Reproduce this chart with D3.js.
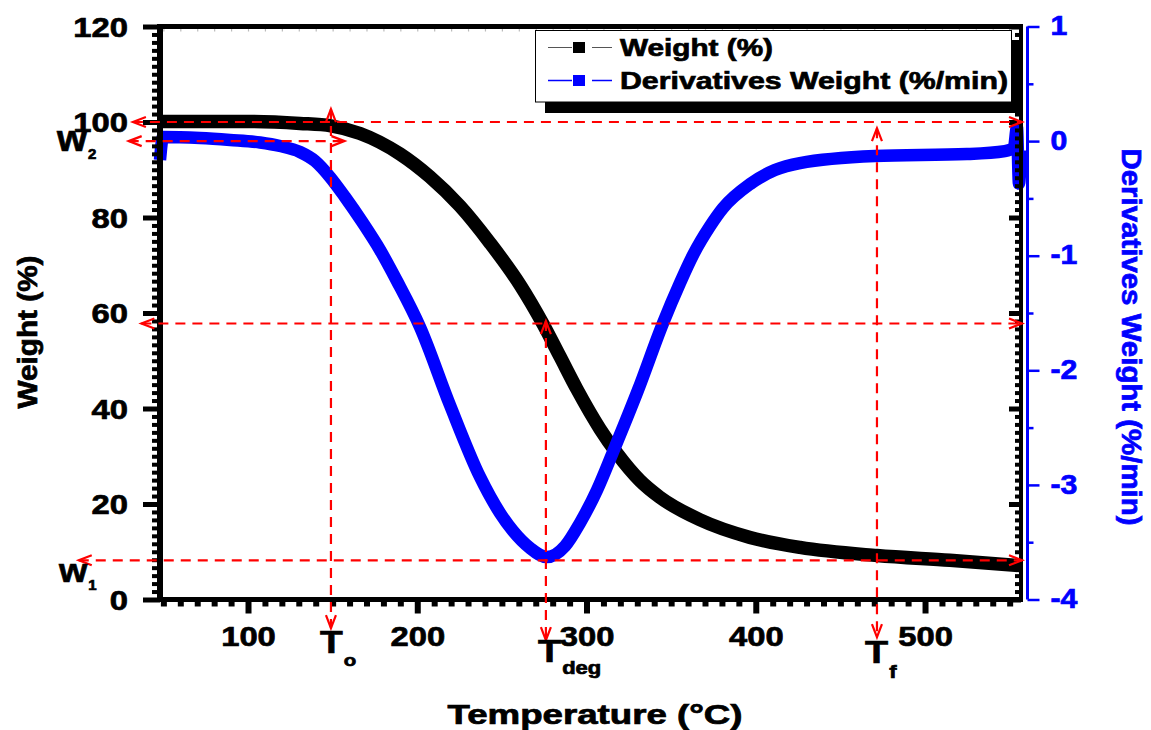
<!DOCTYPE html>
<html>
<head>
<meta charset="utf-8">
<script src="https://cdn.jsdelivr.net/npm/d3@7"></script>
<style>
  html, body { margin: 0; padding: 0; background: #fff; }
  svg { display: block; }
  text { font-family: "Liberation Sans", Arial, sans-serif; font-weight: bold; }
</style>
</head>
<body>
<svg id="chart" width="1151" height="730"></svg>
<script>
// ---- TGA / DTG data ----
const weightTemp = [48, 101.2, 130.7, 149, 166.2, 189.8, 207.5, 225.2, 242.9, 260.7, 274.3, 284.3, 294.4, 308, 318, 331.6, 343.4, 367, 396.6, 426.1, 471.6, 514.7, 556.1];
const weightPct  = [100.1, 100.1, 99.7, 99.2, 97.6, 93.3, 88.5, 82.4, 74.7, 65.9, 57.7, 50.9, 44.0, 35.7, 30.6, 24.9, 21.4, 16.7, 13.0, 10.9, 9.2, 8.2, 7.1];

const derivTemp = [48, 49.8, 71.6, 89.4, 107.1, 118.9, 130.7, 139.6, 148.4, 157.3, 167.9, 178, 188, 201.6, 219.3, 237.1, 248.9, 256.6, 266.6, 276.6, 287.3, 296.1, 306.2, 315.6, 330.4, 345.2, 355.2, 362.9, 373, 380.6, 396.6, 411.3, 426.1, 470.4, 524.8, 547.2, 552.5, 554.3, 555.5, 556.7];
const derivVal  = [-0.165, 0.036, 0.027, 0.01, -0.012, -0.043, -0.095, -0.174, -0.313, -0.488, -0.715, -0.95, -1.221, -1.622, -2.303, -2.932, -3.246, -3.403, -3.551, -3.63, -3.534, -3.333, -3.045, -2.714, -2.173, -1.588, -1.239, -0.995, -0.742, -0.585, -0.375, -0.253, -0.192, -0.131, -0.113, -0.087, -0.06, 0.12, -0.37, -0.08];

// axis ticks
const tempTicks   = [100, 200, 300, 400, 500];
const weightTicks = [0, 20, 40, 60, 80, 100, 120];
const derivTicks  = [-4, -3, -2, -1, 0, 1];

// characteristic points (guide lines)
const T_onset = 149, T_deg = 276, T_final = 471.6;
const W_top = 100, W_deg = 57.8, W_1 = 8.2, D_zero = 0;

const legendItems = [
  { label: "Weight (%)", color: "#000000", line: "#555555" },
  { label: "Derivatives Weight (%/min)", color: "#0000ff", line: "#0000ff" }
];

// ---- scales ----
const svg = d3.select("#chart");
const x  = d3.scaleLinear().domain([48, 556.7]).range([160, 1021]);
const yL = d3.scaleLinear().domain([0, 120]).range([599.5, 26.5]);
const yR = d3.scaleLinear().domain([-4, 1]).range([599.5, 26.5]);

function widen(sel, k) {
  sel.each(function () {
    const l = this.getComputedTextLength();
    d3.select(this).attr("textLength", l * k).attr("lengthAdjust", "spacingAndGlyphs");
  });
  return sel;
}
function fit(sel, len) {
  return sel.attr("textLength", len).attr("lengthAdjust", "spacingAndGlyphs");
}
function heavy(sel, color) {
  return sel.attr("stroke", color).attr("stroke-width", 0.7).attr("paint-order", "stroke");
}
function range(a, b, step, skip) {
  const out = [];
  for (let v = a; v <= b + 1e-9; v += step) {
    if (!skip.some(s => Math.abs(s - v) < 1e-6)) out.push(+v.toFixed(4));
  }
  return out;
}

// ---- data curves ----
const weightData = weightTemp.map((t, i) => ({ t, v: weightPct[i] }));
const derivData  = derivTemp.map((t, i) => ({ t, v: derivVal[i] }));

svg.append("path")
  .datum(weightData)
  .attr("fill", "none").attr("stroke", "#000").attr("stroke-width", 13.5)
  .attr("stroke-linejoin", "round")
  .attr("d", d3.line().x(d => x(d.t)).y(d => yL(d.v)).curve(d3.curveMonotoneX));

svg.append("path")
  .datum(derivData)
  .attr("fill", "none").attr("stroke", "#0000ff").attr("stroke-width", 12.5)
  .attr("stroke-linejoin", "round")
  .attr("d", d3.line().x(d => x(d.t)).y(d => yR(d.v)).curve(d3.curveMonotoneX));

// ---- frame and axes ----
const frame = svg.append("g");
frame.append("line").attr("x1", 157).attr("x2", 1023).attr("y1", 26.5).attr("y2", 26.5)
  .attr("stroke", "#000").attr("stroke-width", 5);
frame.append("line").attr("x1", 1021).attr("x2", 1021).attr("y1", 24).attr("y2", 602)
  .attr("stroke", "#000").attr("stroke-width", 4);

// left axis (weight)
const leftMinor = svg.append("g").attr("transform", "translate(160,0)")
  .call(d3.axisLeft(yL).tickValues(range(0, 120, 20 / 12, weightTicks)).tickSize(8).tickFormat(""));
leftMinor.selectAll(".tick line").attr("stroke", "#000").attr("stroke-width", 4);
const leftAxis = svg.append("g").attr("transform", "translate(160,0)")
  .call(d3.axisLeft(yL).tickValues(weightTicks).tickSize(17).tickPadding(15).tickFormat(d => String(d)));
leftAxis.selectAll(".tick line").attr("stroke", "#000").attr("stroke-width", 5);
leftAxis.selectAll("text").attr("font-size", 28).attr("fill", "#000").attr("dy", "0.34em");
heavy(leftAxis.selectAll("text"), "#000");
widen(leftAxis.selectAll("text"), 1.17);

// mirrored ticks on the right frame (inward)
const rightMinor = svg.append("g").attr("transform", "translate(1021,0)")
  .call(d3.axisRight(yL).tickValues(range(0, 120, 20 / 12, weightTicks)).tickSize(-6).tickFormat(""));
rightMinor.selectAll(".tick line").attr("stroke", "#000").attr("stroke-width", 4);
const rightMajor = svg.append("g").attr("transform", "translate(1021,0)")
  .call(d3.axisRight(yL).tickValues(weightTicks).tickSize(-12).tickFormat(""));
rightMajor.selectAll(".tick line").attr("stroke", "#000").attr("stroke-width", 5);

// bottom axis (temperature)
const botMinor = svg.append("g").attr("transform", "translate(0,599.5)")
  .call(d3.axisBottom(x).tickValues(range(50, 550, 10, tempTicks)).tickSize(7).tickFormat(""));
botMinor.selectAll(".tick line").attr("stroke", "#000").attr("stroke-width", 6);
const botAxis = svg.append("g").attr("transform", "translate(0,599.5)")
  .call(d3.axisBottom(x).tickValues(tempTicks).tickSize(14).tickPadding(13).tickFormat(d => String(d)));
botAxis.selectAll(".tick line").attr("stroke", "#000").attr("stroke-width", 6);
botAxis.selectAll("text").attr("font-size", 28).attr("fill", "#000");
heavy(botAxis.selectAll("text"), "#000");
widen(botAxis.selectAll("text"), 1.17);

// faint mirrored ticks on the top frame
const topMinor = svg.append("g").attr("transform", "translate(0,26.5)")
  .call(d3.axisTop(x).tickValues(range(50, 550, 10, [])).tickSize(-5).tickFormat(""));
topMinor.selectAll(".tick line").attr("stroke", "#bbb").attr("stroke-width", 1.2);

[leftMinor, leftAxis, rightMinor, rightMajor, botMinor, botAxis, topMinor].forEach(g => g.select(".domain").remove());

// left and bottom axis lines
frame.raise();
svg.append("line").attr("x1", 160).attr("x2", 160).attr("y1", 24).attr("y2", 602)
  .attr("stroke", "#000").attr("stroke-width", 6);
svg.append("line").attr("x1", 157).attr("x2", 1023).attr("y1", 599.5).attr("y2", 599.5)
  .attr("stroke", "#000").attr("stroke-width", 5);

// right axis (derivative), blue
const blue = "#0000ff";
svg.append("line").attr("x1", 1027.5).attr("x2", 1027.5).attr("y1", yR(1)).attr("y2", yR(-4))
  .attr("stroke", blue).attr("stroke-width", 3);
const rMinor = svg.append("g").attr("transform", "translate(1027.5,0)")
  .call(d3.axisRight(yR).tickValues([-3.5, -2.5, -1.5, -0.5, 0.5]).tickSize(6).tickFormat(""));
rMinor.selectAll(".tick line").attr("stroke", blue).attr("stroke-width", 2.5);
const rAxis = svg.append("g").attr("transform", "translate(1027.5,0)")
  .call(d3.axisRight(yR).tickValues(derivTicks).tickSize(12).tickPadding(11).tickFormat(d => String(d)));
rAxis.selectAll(".tick line").attr("stroke", blue).attr("stroke-width", 2.5);
rAxis.selectAll("text").attr("font-size", 27).attr("fill", blue).attr("dy", "0.3em");
heavy(rAxis.selectAll("text"), blue);
widen(rAxis.selectAll("text"), 1.12);
[rMinor, rAxis].forEach(g => g.select(".domain").remove());

// ---- guide lines (red dashed, double arrows) ----
const red = "#ff0000";
const guides = svg.append("g").attr("stroke", red).attr("fill", "none").attr("stroke-width", 2.2);

function arrowHead(px, py, dx, dy) {
  // open V head pointing along (dx,dy), tip at (px,py)
  const len = 13, half = 5;
  const bx = px - dx * len, by = py - dy * len;
  const nx = -dy, ny = dx;
  guides.append("path")
    .attr("d", `M${bx + nx * half},${by + ny * half} L${px},${py} L${bx - nx * half},${by - ny * half}`);
}
function hGuide(yPix, t0, t1) {
  const x0 = x(t0), x1 = x(t1);
  guides.append("line").attr("x1", x0).attr("x2", x1).attr("y1", yPix).attr("y2", yPix)
    .attr("stroke-dasharray", "10,7");
  arrowHead(x0, yPix, -1, 0);
  arrowHead(x1, yPix, 1, 0);
}
function vGuide(t, v0, v1) {
  const xp = x(t), y0 = yL(v0), y1 = yL(v1);
  guides.append("line").attr("x1", xp).attr("x2", xp).attr("y1", y0).attr("y2", y1)
    .attr("stroke-dasharray", "10,7");
  arrowHead(xp, y0, 0, -1);
  arrowHead(xp, y1, 0, 1);
}
hGuide(yL(W_top), 32, 557.3);
hGuide(yR(D_zero), 29.5, 157);
hGuide(yL(W_deg), 37, 557.3);
hGuide(yL(W_1), 0, 557.3);
vGuide(T_onset, 102.7, -6.0);
vGuide(T_deg, 58.3, -8.5);
vGuide(T_final, 98.7, -7.9);

// ---- characteristic labels: symbol with subscript, slightly widened ----
function subLabel(xp, yp, main, sub, mainSize, subSize, subDy, sx) {
  const t = svg.append("text")
    .attr("transform", `translate(${xp},${yp}) scale(${sx},1)`)
    .attr("fill", "#000").attr("font-size", mainSize);
  heavy(t, "#000");
  t.append("tspan").text(main);
  t.append("tspan").attr("font-size", subSize).attr("dx", 1).attr("dy", subDy).text(sub);
}
subLabel(x(T_onset) - 11, 653, "T", "o", 31, 17, 13, 1.2);
subLabel(x(T_deg) - 8, 662, "T", "deg", 31, 18, 12, 1.22);
subLabel(x(T_final) - 12, 663, "T", "f", 31, 18, 15, 1.22);
subLabel(57, 151, "w", "2", 36, 14, 8, 1.07);
subLabel(59, 582, "w", "1", 34, 14, 8, 1.07);

// ---- axis titles ----
heavy(fit(svg.append("text").attr("x", 595).attr("y", 724).attr("text-anchor", "middle")
  .attr("font-size", 27).attr("fill", "#000").text("Temperature (°C)"), 295), "#000");
heavy(fit(svg.append("text").attr("transform", "translate(37,332) rotate(-90)").attr("text-anchor", "middle")
  .attr("font-size", 27).attr("fill", "#000").text("Weight (%)"), 153), "#000");
heavy(fit(svg.append("text").attr("transform", "translate(1122,337) rotate(90)").attr("text-anchor", "middle")
  .attr("font-size", 27).attr("fill", blue).text("Derivatives Weight (%/min)"), 377), blue);

// ---- legend ----
const lg = svg.append("g");
lg.append("rect").attr("x", 545).attr("y", 40).attr("width", 477).attr("height", 73).attr("fill", "#000");
lg.append("rect").attr("x", 535.5).attr("y", 30.5).attr("width", 476).attr("height", 71.5)
  .attr("fill", "#fff").attr("stroke", "#000").attr("stroke-width", 1);
const textLens = [153, 388];
legendItems.forEach((it, i) => {
  const cy = 47.5 + i * 33;
  lg.append("line").attr("x1", 548).attr("x2", 612).attr("y1", cy).attr("y2", cy)
    .attr("stroke", it.line).attr("stroke-width", i === 0 ? 1 : 1.5);
  lg.append("rect").attr("x", 572).attr("y", cy - 5.5).attr("width", 20).attr("height", 11).attr("fill", "#fff");
  lg.append("rect").attr("x", 573).attr("y", cy - 5.5).attr("width", 12).attr("height", 11).attr("fill", it.color);
  const t = lg.append("text").attr("x", 620).attr("y", cy + 8.5).attr("font-size", 24).attr("fill", "#000").text(it.label);
  heavy(t, "#000");
  fit(t, textLens[i]);
});
</script>
</body>
</html>
